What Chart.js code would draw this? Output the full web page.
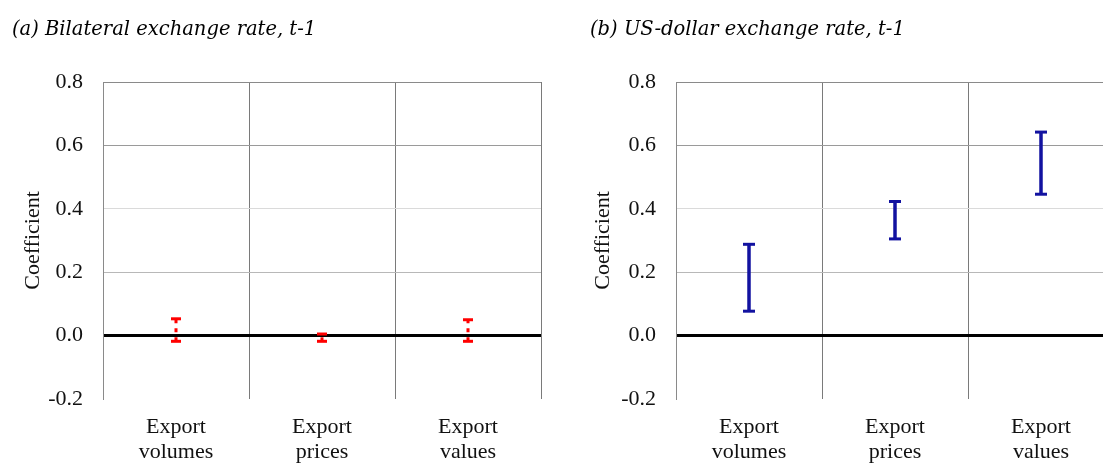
<!DOCTYPE html>
<html>
<head>
<meta charset="utf-8">
<script src="https://cdn.jsdelivr.net/npm/chart.js@4/dist/chart.umd.min.js"></script>
<style>
  html, body { margin: 0; padding: 0; background: #fff; overflow: hidden; }
  body { width: 1103px; height: 464px; position: relative; }
  .panel { position: absolute; top: 0; width: 560px; height: 464px; }
</style>
</head>
<body>
<div class="panel" style="left:0"><canvas id="chartA"></canvas></div>
<div class="panel" style="left:573px"><canvas id="chartB"></canvas></div>
<script>
// categories along the x axis
const categories = ["Export volumes", "Export prices", "Export values"];

// y axis range / tick step
const yMin = -0.2;
const yMax = 0.8;
const yStep = 0.2;

// (a) bilateral exchange rate, t-1 : confidence interval ends
const bilateralLow = [-0.018, -0.018, -0.018];
const bilateralHigh = [0.053, 0.005, 0.050];

// (b) US-dollar exchange rate, t-1 : confidence interval ends
const usdLow = [0.077, 0.305, 0.446];
const usdHigh = [0.288, 0.423, 0.642];

const serif = "'Liberation Serif', 'Times New Roman', serif";
const gridColors = { "0.8": "#8a8a8a", "0.6": "#9a9a9a", "0.4": "#dadada", "0.2": "#b8b8b8" };

function makeChart(id, title, low, high, color, opts) {
  const datasets = categories.map((c, i) => ({
    data: [{ x: c, y: low[i] }, { x: c, y: high[i] }],
    borderColor: color,
    borderWidth: opts.stem,
    borderDash: opts.dash,
    pointStyle: "line",
    pointRadius: opts.cap,
    pointBorderWidth: 3,
    pointBorderColor: color,
    pointBackgroundColor: color,
    fill: false,
  }));

  return new Chart(document.getElementById(id).getContext("2d"), {
    type: "line",
    data: { labels: categories, datasets: datasets },
    options: {
      responsive: false,
      animation: false,
      events: [],
      layout: { padding: { left: opts.padLeft, right: 19, top: 0, bottom: 0 } },
      plugins: {
        legend: { display: false },
        tooltip: { enabled: false },
        title: {
          display: true,
          text: title,
          align: "start",
          color: "#000",
          font: { family: "'DejaVu Serif', serif", style: "italic", size: 19.5, weight: "normal", lineHeight: 1.2 },
          padding: { top: 18, bottom: 40.6 },
        },
      },
      scales: {
        x: {
          type: "category",
          offset: true,
          grid: { offset: true, color: "#7a7a7a", lineWidth: 1, drawTicks: false },
          border: { display: false },
          ticks: {
            color: "#111",
            padding: 16,
            maxRotation: 0,
            font: { family: serif, size: 22, lineHeight: 1.14 },
            callback: function (v) { return this.getLabelForValue(v).split(" "); },
          },
          afterFit: (s) => { s.height = 65; },
        },
        y: {
          min: yMin,
          max: yMax,
          ticks: {
            stepSize: yStep,
            color: "#111",
            padding: 20,
            font: { family: serif, size: 22 },
            callback: (v) => v.toFixed(1),
          },
          grid: {
            drawTicks: false,
            color: (ctx) => {
              const v = Number(ctx.tick.value.toFixed(1));
              if (v === 0) return "#000";
              if (v === -0.2) return "rgba(0,0,0,0)";
              return gridColors[v.toFixed(1)] || "#bbb";
            },
            lineWidth: (ctx) => (Math.abs(ctx.tick.value) < 1e-9 ? 3 : 1),
          },
          border: { display: true, color: "#8a8a8a", width: 1 },
          title: {
            display: true,
            text: "Coefficient",
            color: "#111",
            padding: { top: opts.titlePad, bottom: 0 },
            font: { family: serif, size: 22 },
          },
          afterFit: (s) => { s.width = opts.axisWidth; },
        },
      },
    },
  });
}

for (const id of ["chartA", "chartB"]) {
  const c = document.getElementById(id);
  c.width = 560;
  c.height = 464;
}

makeChart("chartA", "(a) Bilateral exchange rate, t-1", bilateralLow, bilateralHigh, "#ff0000",
  { stem: 3, dash: [4, 5], cap: 5, padLeft: 12, axisWidth: 91, titlePad: 8 });
makeChart("chartB", "(b) US-dollar exchange rate, t-1", usdLow, usdHigh, "#1212a0",
  { stem: 3.5, dash: [], cap: 6, padLeft: 17, axisWidth: 86, titlePad: 0 });
</script>
</body>
</html>
